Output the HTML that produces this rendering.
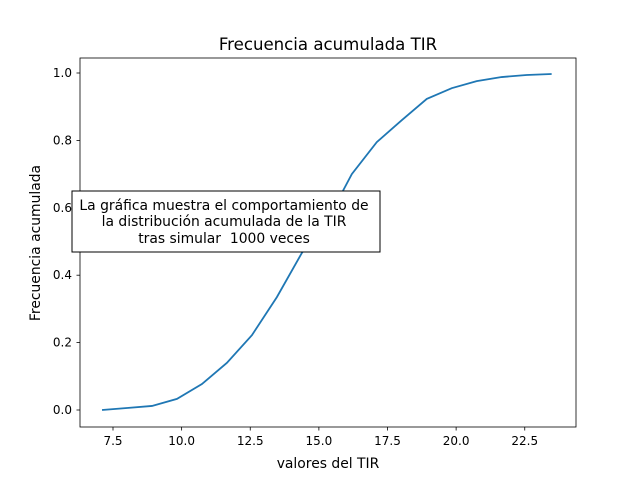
<!DOCTYPE html>
<html><head><meta charset="utf-8"><style>
body{margin:0;background:#fff}
svg{font-family:"DejaVu Sans","Liberation Sans",sans-serif}
</style></head><body>
<svg id="c" width="640" height="480" xmlns="http://www.w3.org/2000/svg">
<rect width="640" height="480" fill="#fff"/>
<text x="328" y="50" font-size="16.6" text-anchor="middle">Frecuencia acumulada TIR</text>
<g id="plot"></g>
<rect x="80" y="58" width="496" height="369" fill="none" stroke="#000" stroke-width="0.8"/>
<text x="328" y="468" font-size="13.9" text-anchor="middle">valores del TIR</text>
<text transform="translate(40,243) rotate(-90)" font-size="13.9" text-anchor="middle">Frecuencia acumulada</text>
<g>
<rect x="72" y="191" width="308" height="61" fill="#fff" stroke="#000" stroke-width="1"/>
<text x="224" y="210" font-size="13.9" text-anchor="middle">La gráfica muestra el comportamiento de</text>
<text x="224" y="226" font-size="13.9" text-anchor="middle">la distribución acumulada de la TIR</text>
<text x="224" y="243" font-size="13.9" text-anchor="middle" xml:space="preserve">tras simular  1000 veces</text>
</g>
</svg>
<script>
const xVals=[7.1,8.01,8.92,9.83,10.74,11.65,12.56,13.47,14.38,15.29,16.2,17.11,18.02,18.93,19.84,20.75,21.66,22.57,23.48];
const yVals=[0.0,0.006,0.012,0.033,0.077,0.14,0.222,0.335,0.466,0.56,0.70,0.795,0.86,0.923,0.955,0.976,0.988,0.994,0.997];
const xTicks=[7.5,10.0,12.5,15.0,17.5,20.0,22.5];
const yTicks=[0.0,0.2,0.4,0.6,0.8,1.0];
const X=v=>113+(v-7.5)*27.45;
const Y=v=>410-v*337;
const g=document.getElementById('plot');
const NS='http://www.w3.org/2000/svg';
function mk(t,a){const e=document.createElementNS(NS,t);for(const k in a)e.setAttribute(k,a[k]);g.appendChild(e);return e;}
xTicks.forEach(t=>{
 const l=mk('line',{x1:X(t),x2:X(t),y1:427,y2:430.5,stroke:'#000','stroke-width':0.8});
 
 
 const s=mk('text',{x:X(t),y:445,'font-size':12,'text-anchor':'middle'});s.textContent=t.toFixed(1);
 
 
});
yTicks.forEach(t=>{
 const l=mk('line',{x1:76.5,x2:80,y1:Y(t),y2:Y(t),stroke:'#000','stroke-width':0.8});
 
 
 const s=mk('text',{x:72,y:Y(t)+4,'font-size':12,'text-anchor':'end'});s.textContent=t.toFixed(1);
 
 
});
const p=mk('polyline',{points:xVals.map((v,i)=>X(v)+','+Y(yVals[i])).join(' '),fill:'none',stroke:'#1f77b4','stroke-width':1.8});


</script>
</body></html>
